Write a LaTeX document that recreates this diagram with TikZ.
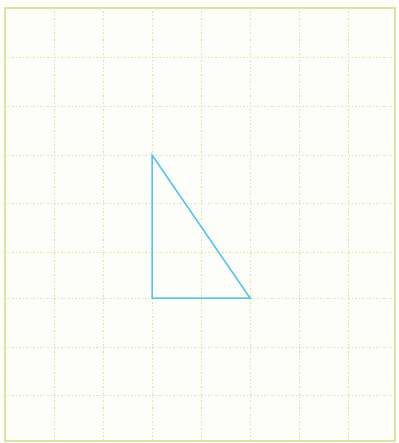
\documentclass[tikz,border=0pt]{standalone}
\begin{document}
\begin{tikzpicture}[x=1pt,y=-1pt,
  gridline/.style={draw=gridgreen,line width=0.9pt,dash pattern=on 1.5pt off 2pt},
  gridborder/.style={draw=gridgreen,line width=1.1pt},
  tri/.style={draw=triblue,line width=1.5pt,line join=miter}]
\definecolor{gridgreen}{RGB}{214,232,160}
\definecolor{triblue}{RGB}{88,196,232}
\definecolor{paper}{RGB}{253,253,249}
\fill[paper] (0,0) rectangle (398,443);
\useasboundingbox (0,0) rectangle (398,443);
\foreach \x in {54,103,152,201,250,299,348}
  \draw[gridline] (\x,8) -- (\x,441);
\foreach \y in {57,106,155,203,252,298,347,395}
  \draw[gridline] (5,\y) -- (395,\y);
\draw[gridborder] (5,8) rectangle (395,441);
\coordinate (A) at (152,155);
\coordinate (B) at (152,298);
\coordinate (C) at (250,298);
\draw[tri] (A) -- (B) -- (C) -- cycle;
\end{tikzpicture}
\end{document}
